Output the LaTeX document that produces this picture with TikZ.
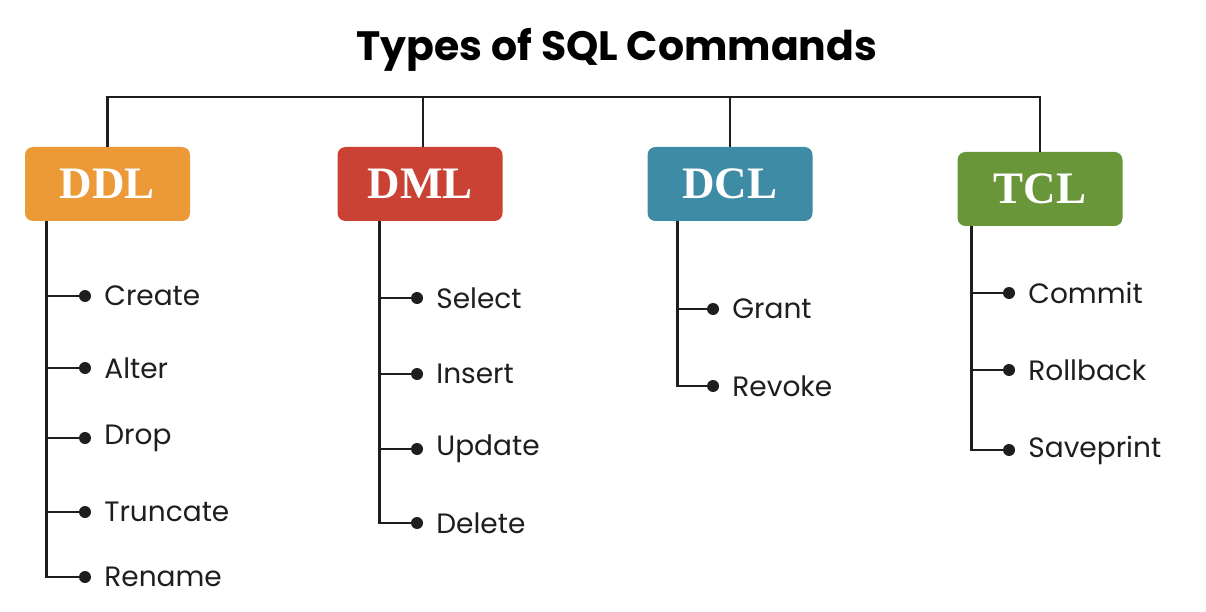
\documentclass[tikz,border=0pt]{standalone}
\usepackage{fontspec}
\newfontfamily\headfont{Poppins}
\newfontfamily\itemfont{Poppins}
\newfontfamily\groupfont{Liberation Serif}
\usetikzlibrary{positioning}
\definecolor{ddlc}{HTML}{EB9A37}
\definecolor{dmlc}{HTML}{C94233}
\definecolor{dclc}{HTML}{3E8BA5}
\definecolor{tclc}{HTML}{6A963A}
\definecolor{ink}{HTML}{1E1E1E}
\tikzset{group/.style={rectangle, rounded corners=8pt, draw=none, text=white,
   minimum width=165pt, minimum height=74pt,
   font=\groupfont\bfseries\fontsize{45}{45}\selectfont}}
\tikzset{dot/.style={circle, fill=ink, inner sep=0pt, minimum size=12pt}}
\tikzset{cmd/.style={inner sep=0pt, text=ink,
   font=\itemfont\fontsize{28}{28}\selectfont}}
\tikzset{wire/.style={draw=ink, line width=2.8pt}}

\begin{document}
\begin{tikzpicture}[x=1pt, y=-1pt]
  \useasboundingbox (0,0) rectangle (1206,612);

  \node[font=\headfont\bfseries\fontsize{41}{41}\selectfont] (title) at (617,50) {Types of SQL Commands};

  \node[group, fill=ddlc] (ddl) at (107.5,184) {DDL};
  \node[group, fill=dmlc] (dml) at (420,184)   {DML};
  \node[group, fill=dclc] (dcl) at (730,184)   {DCL};
  \node[group, fill=tclc] (tcl) at (1040,189)  {TCL};

  % bus from the title down to the four groups
  \coordinate (bus) at (0,97);
  \draw[wire] (ddl.north) -- (ddl.north |- bus) -- (tcl.north |- bus) -- (tcl.north);
  \draw[wire] ([xshift=3pt]dml.north |- bus) -- ([xshift=3pt]dml.north);
  \draw[wire] (dcl.north |- bus) -- (dcl.north);

  % DDL
  \foreach \y/\txt [count=\i] in {296/Create, 368/Alter, 438/Drop, 512/Truncate, 577/Rename} {
    \node[dot] (ddl-\i) at (85,\y) {};
    \node[cmd, right=13pt of ddl-\i] {\txt};
  }
  \draw[wire] ([xshift=22pt]ddl.south west) |- (ddl-5);
  \foreach \i in {1,...,4} \draw[wire] ([xshift=22pt]ddl.south west |- ddl-\i) -- (ddl-\i);

  % DML
  \foreach \y/\txt [count=\i] in {298/Select, 374/Insert, 449/Update, 523/Delete} {
    \node[dot] (dml-\i) at (417,\y) {};
    \node[cmd, right=13pt of dml-\i] {\txt};
  }
  \draw[wire] ([xshift=42pt]dml.south west) |- (dml-4);
  \foreach \i in {1,...,3} \draw[wire] ([xshift=42pt]dml.south west |- dml-\i) -- (dml-\i);

  % DCL
  \foreach \y/\txt [count=\i] in {309/Grant, 386/Revoke} {
    \node[dot] (dcl-\i) at (713,\y) {};
    \node[cmd, right=13pt of dcl-\i] {\txt};
  }
  \draw[wire] ([xshift=30pt]dcl.south west) |- (dcl-2);
  \draw[wire] ([xshift=30pt]dcl.south west |- dcl-1) -- (dcl-1);

  % TCL
  \foreach \y/\txt [count=\i] in {293/Commit, 370/Rollback, 450/Saveprint} {
    \node[dot] (tcl-\i) at (1009,\y) {};
    \node[cmd, right=13pt of tcl-\i] {\txt};
  }
  \draw[wire] ([xshift=14pt]tcl.south west) |- (tcl-3);
  \foreach \i in {1,2} \draw[wire] ([xshift=14pt]tcl.south west |- tcl-\i) -- (tcl-\i);

\end{tikzpicture}
\end{document}
